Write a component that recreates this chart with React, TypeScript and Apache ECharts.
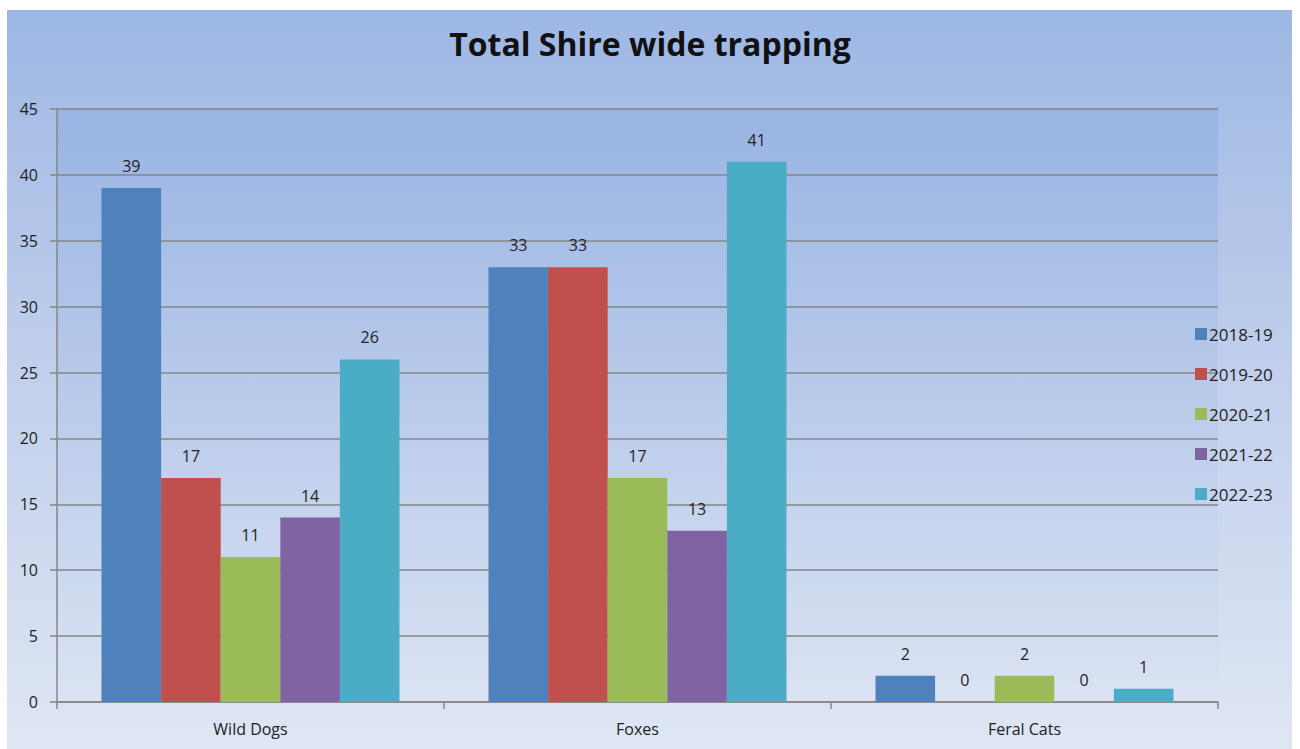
import React, { useEffect, useRef } from "react";
import * as echarts from "echarts";

const categories = ["Wild Dogs", "Foxes", "Feral Cats"];
const seriesNames = ["2018-19", "2019-20", "2020-21", "2021-22", "2022-23"];
const values2018 = [39, 33, 2];
const values2019 = [17, 33, 0];
const values2020 = [11, 17, 2];
const values2021 = [14, 13, 0];
const values2022 = [26, 41, 1];
const seriesValues = [values2018, values2019, values2020, values2021, values2022];
const colors = ["#4f81bd", "#c0504d", "#9bbb59", "#8064a2", "#4bacc6"];

export default function App() {
  const ref = useRef<HTMLDivElement>(null);
  useEffect(() => {
    document.body.style.margin = "0";
    if (!ref.current) return;
    const chart = echarts.init(ref.current, null, { renderer: "svg" });
    chart.setOption({
      animation: false,
      textStyle: { fontFamily: "Open Sans, sans-serif" },
      title: {
        text: "Total Shire wide trapping",
        left: "center",
        top: 22,
        textStyle: { fontSize: 32, fontWeight: "bold", color: "#111", fontFamily: "Open Sans, sans-serif" },
      },
      legend: {
        orient: "vertical",
        left: 1190,
        top: 317,
        itemWidth: 12,
        itemHeight: 12,
        itemGap: 16,
        icon: "rect",
        data: seriesNames,
        textStyle: { fontSize: 17, color: "#222", padding: [0, 0, 0, -3], lineHeight: 24 },
      },
      grid: {
        left: 57,
        right: 82,
        top: 109,
        bottom: 47,
        show: true,
        borderWidth: 0,
        backgroundColor: new echarts.graphic.LinearGradient(0, 0, 0, 1, [
          { offset: 0, color: "#99b4e3" },
          { offset: 1, color: "#dbe3f3" },
        ]),
      },
      xAxis: {
        type: "category",
        data: categories,
        axisLine: { lineStyle: { color: "#868686", width: 1.5 } },
        axisTick: { show: true, length: 7, lineStyle: { color: "#868686", width: 1.5 } },
        axisLabel: { fontSize: 16, color: "#222", margin: 19 },
      },
      yAxis: {
        type: "value",
        min: 0,
        max: 45,
        interval: 5,
        axisLine: { show: true, lineStyle: { color: "#868686", width: 1.5 } },
        axisTick: { show: true, length: 7, lineStyle: { color: "#868686", width: 1.5 } },
        axisLabel: { fontSize: 16, color: "#222", margin: 19 },
        splitLine: { lineStyle: { color: "#868686", width: 1.5 } },
      },
      series: seriesNames.map((name, i) => ({
        name,
        type: "bar",
        data: seriesValues[i],
        barGap: "0%",
        barCategoryGap: "23%",
        itemStyle: { color: colors[i] },
        label: { show: true, position: "top", distance: 14, fontSize: 16, color: "#222" },
      })),
    });
    return () => chart.dispose();
  }, []);
  return (
    <div style={{ position: "absolute", left: 0, top: 0, width: 1300, height: 749, background: "#ffffff" }}>
      <div
        style={{
          position: "absolute",
          left: 7,
          top: 10,
          width: 1285,
          height: 739,
          background: "linear-gradient(to bottom, #9db7e4 0%, #c2d0ec 50%, #dfe6f4 100%)",
        }}
      />
      <div ref={ref} style={{ position: "absolute", left: 0, top: 0, width: 1300, height: 749 }} />
    </div>
  );
}
